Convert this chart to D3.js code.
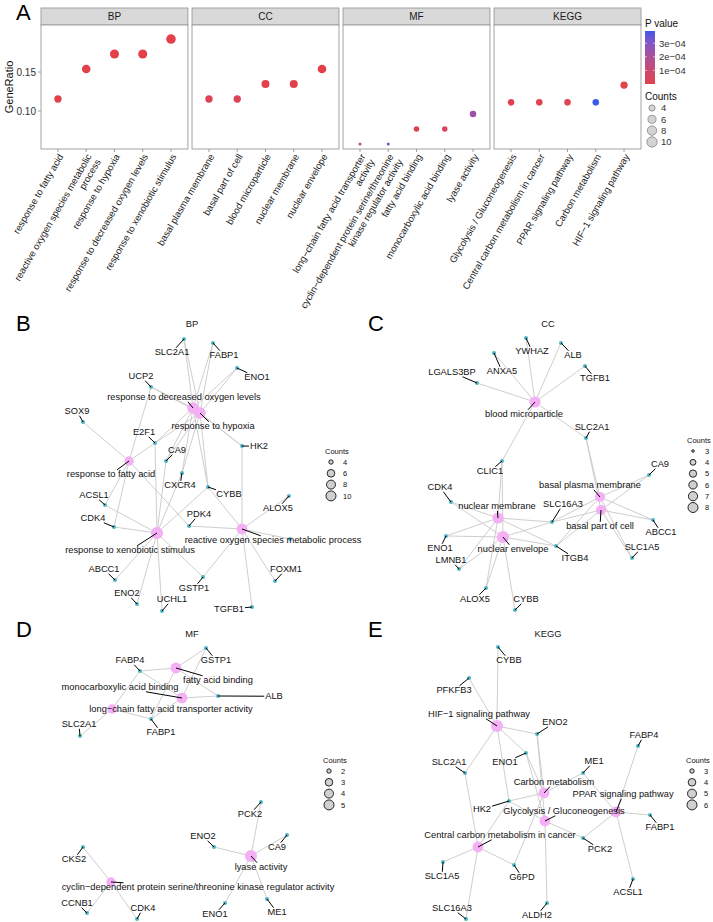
<!DOCTYPE html>
<html>
<head>
<meta charset="utf-8">
<script src="https://cdn.jsdelivr.net/npm/d3@7"></script>
<style>
  body { margin: 0; background: #fff; }
  text { font-family: "Liberation Sans", Arial, Helvetica, sans-serif; }
</style>
</head>
<body>
<svg id="fig" width="713" height="922"></svg>
<script>
// ---------------- panel A : enrichment dot plot ----------------
const ontologies = ['BP', 'CC', 'MF', 'KEGG']

const bpTerms = ['response to fatty acid', 'reactive oxygen species metabolic\nprocess', 'response to hypoxia',
  'response to decreased oxygen levels', 'response to xenobiotic stimulus']
const bpRatio = [0.1154, 0.1538, 0.1731, 0.1731, 0.1923]
const bpCount = [6, 8, 9, 9, 10]
const bpPvalue = [4e-6, 2e-6, 1e-6, 1e-6, 5e-7]

const ccTerms = ['basal plasma membrane', 'basal part of cell', 'blood microparticle', 'nuclear membrane', 'nuclear envelope']
const ccRatio = [0.1154, 0.1154, 0.1346, 0.1346, 0.1538]
const ccCount = [6, 6, 7, 7, 8]
const ccPvalue = [2.4e-5, 2.8e-5, 2e-6, 8e-6, 2e-6]

const mfTerms = ['long\u2212chain fatty acid transporter\nactivity',
  'cyclin\u2212dependent protein serine/threonine\nkinase regulator activity',
  'fatty acid binding', 'monocarboxylic acid binding', 'lyase activity']
const mfRatio = [0.0577, 0.0577, 0.0769, 0.0769, 0.0962]
const mfCount = [3, 3, 4, 4, 5]
const mfPvalue = [1.4e-4, 3.5e-4, 1.5e-5, 4e-5, 2.4e-4]

const keggTerms = ['Glycolysis / Gluconeogenesis', 'Central carbon metabolism in cancer', 'PPAR signaling pathway',
  'Carbon metabolism', 'HIF\u22121 signaling pathway']
const keggRatio = [0.1111, 0.1111, 0.1111, 0.1111, 0.1333]
const keggCount = [5, 5, 5, 5, 6]
const keggPvalue = [1.2e-5, 1e-5, 1.4e-5, 3.9e-4, 2e-6]

const ratioTicks = [0.10, 0.15]
const pTicks = [1e-4, 2e-4, 3e-4]
const countBreaks = [4, 6, 8, 10]

// ---------------- panels B-E : gene-concept networks ----------------
// each set: [term, genes annotated to it]
const bpSets = [
  ['response to decreased oxygen levels', ['SLC2A1', 'FABP1', 'ENO1', 'UCP2', 'E2F1', 'HK2', 'CA9', 'CXCR4', 'CYBB']],
  ['response to hypoxia', ['SLC2A1', 'FABP1', 'ENO1', 'UCP2', 'E2F1', 'HK2', 'CA9', 'CXCR4', 'CYBB']],
  ['response to fatty acid', ['UCP2', 'SOX9', 'E2F1', 'ACSL1', 'CDK4', 'PDK4']],
  ['response to xenobiotic stimulus', ['E2F1', 'CA9', 'CXCR4', 'CYBB', 'ACSL1', 'CDK4', 'ABCC1', 'ENO2', 'UCHL1', 'GSTP1']],
  ['reactive oxygen species metabolic process', ['HK2', 'CYBB', 'ALOX5', 'PDK4', 'unlabelled', 'FOXM1', 'TGFB1', 'GSTP1']]
]
// layout coordinates (graph layout units) of nodes and repelled labels
const bpNodeXY = {
  'response to decreased oxygen levels': [193, 108], 'response to hypoxia': [200, 113],
  'response to fatty acid': [129, 161], 'response to xenobiotic stimulus': [157, 233],
  'reactive oxygen species metabolic process': [242, 229],
  SLC2A1: [184, 39], FABP1: [213, 43], ENO1: [237, 68], UCP2: [151, 87], SOX9: [83, 122], E2F1: [155, 143],
  HK2: [242, 146], CA9: [166, 161], CXCR4: [182, 173], CYBB: [208, 187], ACSL1: [105, 205], ALOX5: [289, 196],
  CDK4: [114, 227], PDK4: [189, 226], unlabelled: [290, 239], FOXM1: [275, 281], ABCC1: [115, 280],
  GSTP1: [203, 277], ENO2: [137, 304], UCHL1: [162, 311], TGFB1: [252, 307]
}
const bpLabelXY = {
  'response to decreased oxygen levels': [184, 97], 'response to hypoxia': [213, 126],
  'response to fatty acid': [111, 174], 'response to xenobiotic stimulus': [130, 250],
  'reactive oxygen species metabolic process': [273, 240],
  SLC2A1: [172, 52], FABP1: [224, 55], ENO1: [257, 77], UCP2: [141, 76], SOX9: [77, 111], E2F1: [144, 132],
  HK2: [259, 146], CA9: [177, 150], CXCR4: [180, 185], CYBB: [229, 194], ACSL1: [94, 195], ALOX5: [278, 208],
  CDK4: [93, 218], PDK4: [199, 214], FOXM1: [286, 269], ABCC1: [104, 269], GSTP1: [194, 288],
  ENO2: [127, 293], UCHL1: [172, 299], TGFB1: [229, 309]
}

const ccSets = [
  ['blood microparticle', ['YWHAZ', 'ALB', 'ANXA5', 'TGFB1', 'LGALS3BP', 'SLC2A1', 'CLIC1']],
  ['basal plasma membrane', ['SLC2A1', 'CA9', 'ABCC1', 'SLC1A5', 'ITGB4', 'SLC16A3']],
  ['basal part of cell', ['SLC2A1', 'CA9', 'ABCC1', 'SLC1A5', 'ITGB4', 'SLC16A3']],
  ['nuclear membrane', ['CLIC1', 'CDK4', 'ENO1', 'LMNB1', 'ALOX5', 'SLC16A3', 'ITGB4']],
  ['nuclear envelope', ['CLIC1', 'CDK4', 'ENO1', 'LMNB1', 'ALOX5', 'CYBB', 'SLC16A3', 'ITGB4']]
]
const ccNodeXY = {
  'blood microparticle': [179, 102], 'basal plasma membrane': [244, 197], 'basal part of cell': [245, 210],
  'nuclear membrane': [142, 218], 'nuclear envelope': [147, 237],
  YWHAZ: [170, 38], ALB: [205, 43], ANXA5: [138, 53], TGFB1: [229, 66], LGALS3BP: [121, 83], SLC2A1: [230, 138],
  CLIC1: [146, 161], CA9: [293, 175], CDK4: [95, 202], SLC16A3: [196, 222], ABCC1: [297, 220], ENO1: [90, 236],
  ITGB4: [200, 246], SLC1A5: [276, 258], LMNB1: [103, 269], ALOX5: [130, 288], CYBB: [159, 310]
}
const ccLabelXY = {
  'blood microparticle': [168, 114], 'basal plasma membrane': [234, 185], 'basal part of cell': [244, 226],
  'nuclear membrane': [141, 206], 'nuclear envelope': [157, 249],
  YWHAZ: [176, 51], ALB: [217, 55], ANXA5: [146, 71], TGFB1: [239, 78], LGALS3BP: [96, 72], SLC2A1: [236, 127],
  CLIC1: [134, 171], CA9: [304, 164], CDK4: [84, 187], SLC16A3: [207, 204], ABCC1: [305, 232], ENO1: [84, 248],
  ITGB4: [219, 258], SLC1A5: [286, 247], LMNB1: [95, 260], ALOX5: [119, 299], CYBB: [170, 299]
}

const mfSets = [
  ['fatty acid binding', ['FABP4', 'GSTP1', 'ALB', 'FABP1']],
  ['monocarboxylic acid binding', ['FABP4', 'GSTP1', 'ALB', 'FABP1']],
  ['long\u2212chain fatty acid transporter activity', ['FABP4', 'SLC2A1', 'FABP1']],
  ['lyase activity', ['PCK2', 'CA9', 'ENO2', 'ENO1', 'ME1']],
  ['cyclin\u2212dependent protein serine/threonine kinase regulator activity', ['CKS2', 'CCNB1', 'CDK4']]
]
const mfNodeXY = {
  'fatty acid binding': [176, 58], 'monocarboxylic acid binding': [182, 88],
  'long\u2212chain fatty acid transporter activity': [112, 99], 'lyase activity': [251, 246],
  'cyclin\u2212dependent protein serine/threonine kinase regulator activity': [111, 272],
  GSTP1: [206, 38], FABP4: [140, 61], ALB: [218, 86], FABP1: [151, 109], SLC2A1: [80, 126], PCK2: [261, 192],
  CA9: [287, 225], ENO2: [214, 237], CKS2: [83, 237], CCNB1: [87, 303], CDK4: [137, 309], ENO1: [225, 293], ME1: [267, 289]
}
const mfLabelXY = {
  'fatty acid binding': [218, 70], 'monocarboxylic acid binding': [120, 77],
  'long\u2212chain fatty acid transporter activity': [171, 99], 'lyase activity': [261, 257],
  'cyclin\u2212dependent protein serine/threonine kinase regulator activity': [198, 277],
  GSTP1: [216, 50], FABP4: [130, 50], ALB: [274, 86], FABP1: [161, 122], SLC2A1: [79, 114], PCK2: [250, 204],
  CA9: [277, 237], ENO2: [203, 226], CKS2: [74, 249], CCNB1: [77, 293], CDK4: [143, 298], ENO1: [215, 304], ME1: [277, 302]
}

const keggSets = [
  ['HIF\u22121 signaling pathway', ['CYBB', 'PFKFB3', 'ENO2', 'ENO1', 'SLC2A1', 'HK2']],
  ['Carbon metabolism', ['ENO2', 'ENO1', 'ME1', 'HK2', 'G6PD']],
  ['Glycolysis / Gluconeogenesis', ['ENO2', 'ENO1', 'HK2', 'PCK2', 'ALDH2']],
  ['Central carbon metabolism in cancer', ['SLC2A1', 'HK2', 'SLC1A5', 'G6PD', 'SLC16A3']],
  ['PPAR signaling pathway', ['FABP4', 'ME1', 'FABP1', 'PCK2', 'ACSL1']]
]
const keggNodeXY = {
  'HIF\u22121 signaling pathway': [141, 116], 'Carbon metabolism': [188, 183], 'PPAR signaling pathway': [260, 202],
  'Glycolysis / Gluconeogenesis': [189, 211], 'Central carbon metabolism in cancer': [122, 237],
  CYBB: [142, 37], PFKFB3: [113, 68], ENO2: [181, 124], FABP4: [282, 136], ENO1: [170, 143], SLC2A1: [109, 163],
  ME1: [227, 163], HK2: [153, 191], FABP1: [294, 205], PCK2: [227, 228], SLC1A5: [87, 252], G6PD: [158, 255],
  ACSL1: [277, 269], SLC16A3: [110, 309], ALDH2: [191, 293]
}
const keggLabelXY = {
  'HIF\u22121 signaling pathway': [123, 104], 'Carbon metabolism': [198, 172], 'PPAR signaling pathway': [267, 184],
  'Glycolysis / Gluconeogenesis': [208, 201], 'Central carbon metabolism in cancer': [144, 225],
  CYBB: [153, 50], PFKFB3: [98, 80], ENO2: [199, 112], FABP4: [288, 125], ENO1: [149, 152], SLC2A1: [93, 152],
  ME1: [238, 151], HK2: [126, 199], FABP1: [304, 217], PCK2: [244, 239], SLC1A5: [86, 266], G6PD: [166, 267],
  ACSL1: [272, 282], SLC16A3: [96, 298], ALDH2: [181, 305]
}

// ---------------------------------------------------------------
const svg = d3.select('#fig')
svg.append('rect').attr('width', 713).attr('height', 922).attr('fill', '#fff')

// ggplot-like area scale: radius grows with sqrt of the rescaled value
function areaScale(lo, hi, rlo, rhi) {
  const t = d3.scaleLinear().domain([lo, hi]).range([0, 1]).clamp(true)
  const r = d3.scaleLinear().domain([0, 1]).range([rlo, rhi])
  return (v) => r(Math.sqrt(t(v)))
}

function fmtP(v) {
  const parts = v.toExponential(0).split('e')
  const e = +parts[1]
  return parts[0] + 'e' + (e < 0 ? '\u2212' : '+') + String(Math.abs(e)).padStart(2, '0')
}

function panelLetter(x, y, s) {
  svg.append('text').attr('x', x).attr('y', y).attr('font-size', 22).attr('fill', '#000').text(s)
}

// ---------------- panel A ----------------
const enrich = [
  { ont: 'BP', terms: bpTerms, ratio: bpRatio, count: bpCount, p: bpPvalue },
  { ont: 'CC', terms: ccTerms, ratio: ccRatio, count: ccCount, p: ccPvalue },
  { ont: 'MF', terms: mfTerms, ratio: mfRatio, count: mfCount, p: mfPvalue },
  { ont: 'KEGG', terms: keggTerms, ratio: keggRatio, count: keggCount, p: keggPvalue }
]
const allP = enrich.flatMap((d) => d.p)
const pMin = 0
const pMax = d3.max(allP)

const facetX = d3.scaleBand().domain(ontologies).range([41, 641]).paddingInner(0.027)
const ratioY = d3.scaleLinear().domain([0.0513, 0.2103]).range([149, 25])
const pColor = d3.scaleLinear().domain([pMin, pMax]).range(['#E2414B', '#3B5AE8']).interpolate(d3.interpolateLab)
const dotR = areaScale(3, 10, 1.5, 4.8)

panelLetter(16, 20, 'A')

const gA = svg.append('g')

// y axis
gA.append('text')
  .attr('transform', 'translate(13,87) rotate(-90)')
  .attr('text-anchor', 'middle')
  .attr('font-size', 11)
  .attr('fill', '#111')
  .text('GeneRatio')

ratioTicks.forEach((t) => {
  gA.append('line').attr('x1', 38).attr('x2', 41).attr('y1', ratioY(t)).attr('y2', ratioY(t))
    .attr('stroke', '#888').attr('stroke-width', 0.8)
  gA.append('text').attr('x', 36).attr('y', ratioY(t)).attr('dy', '0.35em')
    .attr('text-anchor', 'end').attr('font-size', 10).attr('fill', '#333').text(t.toFixed(2))
})

enrich.forEach((d) => {
  const x0 = facetX(d.ont)
  const bw = facetX.bandwidth()
  const x = d3.scalePoint().domain(d.terms).range([x0, x0 + bw]).padding(0.6)

  // strip
  gA.append('rect').attr('x', x0).attr('y', 8).attr('width', bw).attr('height', 17)
    .attr('fill', '#D9D9D9').attr('stroke', '#9a9a9a').attr('stroke-width', 0.9)
  gA.append('text').attr('x', x0 + bw / 2).attr('y', 16.5).attr('dy', '0.35em')
    .attr('text-anchor', 'middle').attr('font-size', 10).attr('fill', '#1a1a1a').text(d.ont)

  // panel
  gA.append('rect').attr('x', x0).attr('y', 25).attr('width', bw).attr('height', 124)
    .attr('fill', '#fff').attr('stroke', '#9a9a9a').attr('stroke-width', 0.9)

  const rows = d.terms.map((t, i) => ({ term: t, ratio: d.ratio[i], count: d.count[i], p: d.p[i] }))

  gA.selectAll(null)
    .data(rows)
    .enter()
    .append('circle')
    .attr('cx', (r) => x(r.term))
    .attr('cy', (r) => ratioY(r.ratio))
    .attr('r', (r) => dotR(r.count))
    .attr('fill', (r) => pColor(r.p))

  // x ticks and rotated labels
  rows.forEach((r) => {
    gA.append('line').attr('x1', x(r.term)).attr('x2', x(r.term)).attr('y1', 149).attr('y2', 152)
      .attr('stroke', '#888').attr('stroke-width', 0.8)
    const lab = gA.append('text')
      .attr('transform', 'translate(' + x(r.term) + ',153) rotate(-60)')
      .attr('text-anchor', 'end')
      .attr('font-size', 9.5)
      .attr('fill', '#222')
    r.term.split('\n').forEach((line, i) => {
      lab.append('tspan').attr('x', 0).attr('dy', i === 0 ? '0.7em' : '1.1em').text(line)
    })
  })
})

// colour legend
const barY = d3.scaleLinear().domain([pMin, pMax]).range([84, 31])
const grad = svg.append('defs').append('linearGradient')
  .attr('id', 'pgrad').attr('x1', 0).attr('y1', 1).attr('x2', 0).attr('y2', 0)
d3.range(0, 1.0001, 0.1).forEach((f) => {
  grad.append('stop').attr('offset', f).attr('stop-color', pColor(pMin + f * (pMax - pMin)))
})
gA.append('text').attr('x', 645).attr('y', 27).attr('font-size', 10).attr('fill', '#111').text('P value')
gA.append('rect').attr('x', 645).attr('y', 31).attr('width', 10).attr('height', 53).attr('fill', 'url(#pgrad)')
pTicks.forEach((t) => {
  gA.append('line').attr('x1', 645).attr('x2', 647).attr('y1', barY(t)).attr('y2', barY(t)).attr('stroke', '#fff').attr('stroke-width', 0.6)
  gA.append('line').attr('x1', 653).attr('x2', 655).attr('y1', barY(t)).attr('y2', barY(t)).attr('stroke', '#fff').attr('stroke-width', 0.6)
  gA.append('text').attr('x', 659).attr('y', barY(t)).attr('dy', '0.35em')
    .attr('font-size', 9.5).attr('fill', '#333').text(fmtP(t))
})

// size legend
gA.append('text').attr('x', 645).attr('y', 100).attr('font-size', 10).attr('fill', '#111').text('Counts')
countBreaks.forEach((c, i) => {
  const cy = 108 + i * 11.3
  gA.append('circle').attr('cx', 652).attr('cy', cy).attr('r', dotR(c) + 0.4)
    .attr('fill', '#D3D3D3').attr('stroke', '#777').attr('stroke-width', 0.7)
  gA.append('text').attr('x', 661).attr('y', cy).attr('dy', '0.35em')
    .attr('font-size', 9.5).attr('fill', '#333').text(c)
})

// ---------------- network panels ----------------
function drawNetwork(cfg) {
  const ox = cfg.origin[0]
  const oy = cfg.origin[1]
  const lx = d3.scaleLinear().domain([0, 356]).range([ox, ox + 356])
  const ly = d3.scaleLinear().domain([0, 310]).range([oy, oy + 310])
  const size = areaScale(d3.min(cfg.breaks), d3.max(cfg.breaks), cfg.radius[0], cfg.radius[1])

  const cats = cfg.sets.map((s) => ({ id: s[0], count: s[1].length, cat: true }))
  const geneIds = Array.from(new Set(cfg.sets.flatMap((s) => s[1])))
  const genes = geneIds.map((id) => ({ id: id, cat: false }))
  const links = cfg.sets.flatMap((s) => s[1].map((gn) => ({ source: s[0], target: gn })))
  const nodes = cats.concat(genes)

  const g = svg.append('g')

  g.append('text').attr('x', lx(192)).attr('y', ly(27)).attr('text-anchor', 'middle')
    .attr('font-size', 9.3).attr('fill', '#111').text(cfg.title)

  g.append('g')
    .selectAll('line')
    .data(links)
    .enter()
    .append('line')
    .attr('x1', (d) => lx(cfg.nodeXY[d.source][0]))
    .attr('y1', (d) => ly(cfg.nodeXY[d.source][1]))
    .attr('x2', (d) => lx(cfg.nodeXY[d.target][0]))
    .attr('y2', (d) => ly(cfg.nodeXY[d.target][1]))
    .attr('stroke', '#C8C8C8')
    .attr('stroke-width', 0.9)

  g.append('g')
    .selectAll('circle')
    .data(nodes)
    .enter()
    .append('circle')
    .attr('cx', (d) => lx(cfg.nodeXY[d.id][0]))
    .attr('cy', (d) => ly(cfg.nodeXY[d.id][1]))
    .attr('r', (d) => (d.cat ? size(d.count) * 1.22 : 2))
    .attr('fill', (d) => (d.cat ? '#F5B0F5' : '#50B3C6'))

  const segLayer = g.append('g')
  const labelLayer = g.append('g')

  const labelled = nodes.filter((d) => cfg.labelXY[d.id])
  labelLayer
    .selectAll('text')
    .data(labelled)
    .enter()
    .append('text')
    .attr('x', (d) => lx(cfg.labelXY[d.id][0]))
    .attr('y', (d) => ly(cfg.labelXY[d.id][1]))
    .attr('dy', '0.35em')
    .attr('text-anchor', 'middle')
    .attr('font-size', 9.3)
    .attr('fill', '#111')
    .text((d) => d.id)
    .each(function (d) {
      // repel-style leader line from node to the edge of the label box
      const b = this.getBBox()
      const hw = b.width / 2 + 1
      const hh = b.height / 2 - 0.5
      const cx = b.x + b.width / 2
      const cy = b.y + b.height / 2
      const nx = lx(cfg.nodeXY[d.id][0])
      const ny = ly(cfg.nodeXY[d.id][1])
      const dx = nx - cx
      const dy = ny - cy
      if (Math.abs(dx) <= hw && Math.abs(dy) <= hh) return
      const t = Math.min(dx ? hw / Math.abs(dx) : Infinity, dy ? hh / Math.abs(dy) : Infinity)
      const ex = cx + dx * t
      const ey = cy + dy * t
      if (Math.hypot(nx - ex, ny - ey) < 2.5) return
      segLayer.append('line')
        .attr('x1', nx).attr('y1', ny).attr('x2', ex).attr('y2', ey)
        .attr('stroke', '#000').attr('stroke-width', 1)
    })

  // size legend
  const lg = g.append('g')
  lg.append('text').attr('x', cfg.legend[0]).attr('y', cfg.legend[1])
    .attr('font-size', 7.5).attr('fill', '#111').text('Counts')
  cfg.breaks.forEach((c, i) => {
    const cy = cfg.legend[1] + 8 + i * 11.3
    lg.append('circle').attr('cx', cfg.legend[0] + 6).attr('cy', cy).attr('r', size(c))
      .attr('fill', '#D0D0D0').attr('stroke', '#111').attr('stroke-width', 0.9)
    lg.append('text').attr('x', cfg.legend[0] + 18).attr('y', cy).attr('dy', '0.35em')
      .attr('font-size', 7.5).attr('fill', '#111').text(c)
  })
}

panelLetter(16, 331, 'B')
drawNetwork({ origin: [0, 300], title: 'BP', sets: bpSets, nodeXY: bpNodeXY, labelXY: bpLabelXY,
  breaks: [4, 6, 8, 10], radius: [2.2, 5], legend: [325, 454] })

panelLetter(368, 331, 'C')
drawNetwork({ origin: [356, 300], title: 'CC', sets: ccSets, nodeXY: ccNodeXY, labelXY: ccLabelXY,
  breaks: [3, 4, 5, 6, 7, 8], radius: [1.3, 5], legend: [687, 443] })

panelLetter(16, 637, 'D')
drawNetwork({ origin: [0, 610], title: 'MF', sets: mfSets, nodeXY: mfNodeXY, labelXY: mfLabelXY,
  breaks: [2, 3, 4, 5], radius: [2.2, 5], legend: [323, 763] })

panelLetter(368, 637, 'E')
drawNetwork({ origin: [356, 610], title: 'KEGG', sets: keggSets, nodeXY: keggNodeXY, labelXY: keggLabelXY,
  breaks: [3, 4, 5, 6], radius: [2.2, 5], legend: [686, 763] })
</script>
</body>
</html>
